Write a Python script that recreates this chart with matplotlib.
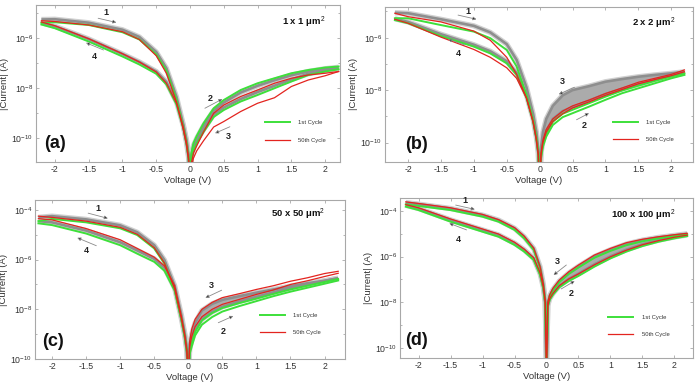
import numpy as np
import matplotlib
matplotlib.use("Agg")
import matplotlib.pyplot as plt
from matplotlib.ticker import FixedLocator, FixedFormatter

plt.rcParams['font.family'] = ['Liberation Sans', 'DejaVu Sans']
plt.rcParams['mathtext.fontset'] = 'custom'
plt.rcParams['mathtext.rm'] = 'Liberation Sans'
plt.rcParams['mathtext.bf'] = 'Liberation Sans:bold'
plt.rcParams['axes.unicode_minus'] = False

# ---------------- data (log10 of |current| in A) ----------------
V_NEG = [-2.2, -2.0, -1.5, -1.0, -0.75, -0.5, -0.35, -0.2, -0.1, -0.05, -0.02, 0.0]
V_POS = [0.0, 0.02, 0.05, 0.1, 0.2, 0.35, 0.5, 0.75, 1.0, 1.25, 1.5, 1.75, 2.0, 2.2]

# panel (a) 1 x 1 um^2
a_b1_green = [-5.38, -5.36, -5.47, -5.76, -6.05, -6.65, -7.3, -8.45, -9.55, -10.2, -10.8, -12]
a_b1_gray = [-5.25, -5.24, -5.38, -5.66, -5.95, -6.55, -7.2, -8.35, -9.45, -10.1, -10.7, -12]
a_b1_red = [-5.3, -5.33, -5.47, -5.74, -6.05, -6.7, -7.4, -8.55, -9.65, -10.3, -10.9, -12]
a_b4_green = [-5.45, -5.6, -6.13, -6.73, -7.05, -7.42, -7.85, -8.65, -9.6, -10.25, -10.8, -12]
a_b4_gray = [-5.38, -5.52, -6.03, -6.63, -6.95, -7.33, -7.75, -8.55, -9.5, -10.2, -10.8, -12]
a_b4_red = [-5.35, -5.5, -6.02, -6.62, -6.95, -7.35, -7.8, -8.6, -9.55, -10.2, -10.8, -12]
a_b2_green = [-12, -10.6, -10.2, -9.9, -9.4, -8.8, -8.47, -8.07, -7.8, -7.6, -7.4, -7.27, -7.17, -7.13]
a_b2_gray = [-12, -10.7, -10.3, -10.0, -9.5, -8.9, -8.57, -8.17, -7.9, -7.68, -7.48, -7.33, -7.22, -7.16]
a_b2_red = [-12, -11.0, -10.6, -10.3, -9.75, -9.0, -8.67, -8.33, -8.07, -7.8, -7.6, -7.47, -7.4, -7.33]
a_b3_green = [-12, -10.9, -10.5, -10.2, -9.75, -9.15, -8.87, -8.53, -8.27, -8.0, -7.73, -7.47, -7.33, -7.24]
a_b3_gray = [-12, -10.8, -10.4, -10.1, -9.65, -9.05, -8.77, -8.43, -8.15, -7.9, -7.65, -7.42, -7.3, -7.2]
a_b3_red = [-12, -11.2, -10.8, -10.5, -10.1, -9.55, -9.33, -8.93, -8.6, -8.38, -7.93, -7.67, -7.5, -7.33]

# panel (b) 2 x 2 um^2
b_b1_green = [-5.26, -5.26, -5.52, -5.77, -6.02, -6.47, -7.1, -8.18, -9.13, -9.8, -10.4, -12]
b_b1_gray = [-5.05, -5.07, -5.3, -5.55, -5.8, -6.25, -6.85, -7.9, -8.9, -9.6, -10.3, -12]
b_b1_red = [-5.07, -5.2, -5.4, -5.75, -6.1, -6.75, -7.4, -8.3, -9.2, -9.9, -10.5, -12]
b_b4_green = [-5.33, -5.45, -5.94, -6.34, -6.6, -6.98, -7.42, -8.3, -9.2, -9.85, -10.45, -12]
b_b4_gray = [-5.28, -5.4, -5.87, -6.27, -6.52, -6.9, -7.34, -8.2, -9.1, -9.8, -10.4, -12]
b_b4_red = [-5.3, -5.45, -5.98, -6.45, -6.75, -7.15, -7.55, -8.3, -9.2, -9.85, -10.45, -12]
b_b2_green = [-12, -10.6, -10.15, -9.77, -9.33, -9.03, -8.88, -8.63, -8.37, -8.12, -7.93, -7.74, -7.55, -7.42]
b_b2_gray = [-12, -10.4, -9.95, -9.55, -9.1, -8.8, -8.65, -8.4, -8.15, -7.95, -7.78, -7.6, -7.45, -7.35]
b_b2_red = [-12, -10.5, -10.0, -9.6, -9.2, -8.9, -8.68, -8.45, -8.2, -7.98, -7.76, -7.6, -7.45, -7.3]
b_b3_green = [-12, -10.5, -10.05, -9.65, -9.2, -8.9, -8.75, -8.5, -8.25, -8.02, -7.83, -7.65, -7.48, -7.36]
b_b3_gray = [-12, -10.2, -9.6, -9.1, -8.6, -8.2, -8.0, -7.85, -7.68, -7.58, -7.49, -7.42, -7.36, -7.3]
b_b3_red = [-12, -10.4, -9.9, -9.5, -9.1, -8.8, -8.6, -8.38, -8.13, -7.92, -7.7, -7.55, -7.4, -7.23]

# panel (c) 50 x 50 um^2
c_b1_green = [-4.45, -4.36, -4.5, -4.74, -5.01, -5.55, -6.16, -7.18, -8.39, -9.1, -9.7, -11]
c_b1_gray = [-4.3, -4.25, -4.38, -4.62, -4.9, -5.42, -6.02, -7.05, -8.25, -9.0, -9.6, -11]
c_b1_red = [-4.25, -4.3, -4.45, -4.7, -4.98, -5.52, -6.14, -7.18, -8.4, -9.1, -9.7, -11]
c_b4_green = [-4.54, -4.61, -4.95, -5.42, -5.76, -6.09, -6.45, -7.25, -8.45, -9.15, -9.75, -11]
c_b4_gray = [-4.45, -4.5, -4.83, -5.3, -5.63, -5.97, -6.33, -7.15, -8.4, -9.1, -9.7, -11]
c_b4_red = [-4.35, -4.4, -4.75, -5.2, -5.55, -5.9, -6.25, -7.05, -8.3, -9.05, -9.7, -11]
c_b2_green = [-11, -9.8, -9.5, -9.05, -8.62, -8.31, -8.09, -7.87, -7.67, -7.47, -7.29, -7.13, -6.97, -6.84]
c_b2_gray = [-11, -9.6, -9.25, -8.85, -8.4, -8.1, -7.9, -7.68, -7.5, -7.32, -7.15, -7.0, -6.86, -6.75]
c_b2_red = [-11, -9.5, -9.1, -8.7, -8.3, -8.0, -7.8, -7.6, -7.4, -7.22, -7.0, -6.85, -6.68, -6.55]
c_b3_green = [-11, -9.7, -9.35, -8.9, -8.45, -8.15, -7.95, -7.75, -7.57, -7.38, -7.2, -7.05, -6.9, -6.78]
c_b3_gray = [-11, -9.4, -9.0, -8.55, -8.05, -7.78, -7.62, -7.47, -7.33, -7.2, -7.07, -6.95, -6.85, -6.75]
c_b3_red = [-11, -9.3, -8.8, -8.4, -8.0, -7.72, -7.53, -7.37, -7.2, -7.05, -6.87, -6.73, -6.56, -6.47]

# panel (d) 100 x 100 um^2
d_b1_green = [-3.71, -3.78, -3.96, -4.25, -4.47, -4.83, -5.2, -5.71, -6.51, -7.25, -8.0, -11]
d_b1_gray = [-3.63, -3.7, -3.89, -4.18, -4.4, -4.76, -5.13, -5.65, -6.45, -7.2, -7.95, -11]
d_b1_red = [-3.6, -3.67, -3.86, -4.15, -4.38, -4.73, -5.1, -5.63, -6.45, -7.2, -7.95, -11]
d_b4_green = [-3.81, -3.96, -4.47, -4.91, -5.13, -5.49, -5.78, -6.15, -6.81, -7.4, -8.05, -11]
d_b4_gray = [-3.75, -3.89, -4.39, -4.83, -5.05, -5.41, -5.7, -6.08, -6.75, -7.35, -8.0, -11]
d_b4_red = [-3.72, -3.86, -4.35, -4.79, -5.01, -5.37, -5.67, -6.05, -6.72, -7.33, -8.0, -11]
d_b2_green = [-11, -8.2, -7.9, -7.68, -7.35, -7.07, -6.85, -6.44, -6.08, -5.78, -5.54, -5.35, -5.2, -5.1]
d_b2_gray = [-11, -8.15, -7.85, -7.62, -7.28, -6.98, -6.75, -6.34, -5.99, -5.7, -5.46, -5.28, -5.14, -5.05]
d_b2_red = [-11, -8.15, -7.85, -7.62, -7.28, -6.98, -6.76, -6.36, -6.01, -5.72, -5.48, -5.3, -5.15, -5.06]
d_b3_green = [-11, -8.1, -7.75, -7.48, -7.12, -6.76, -6.48, -6.05, -5.75, -5.5, -5.33, -5.2, -5.1, -5.03]
d_b3_gray = [-11, -8.05, -7.72, -7.45, -7.08, -6.72, -6.43, -6.0, -5.7, -5.45, -5.28, -5.16, -5.07, -5.0]
d_b3_red = [-11, -8.0, -7.68, -7.39, -7.03, -6.66, -6.37, -5.93, -5.64, -5.39, -5.24, -5.13, -5.04, -4.98]

PANEL_LABELS = ['(a)', '(b)', '(c)', '(d)']
AREA_LABELS = ['1 x 1 \u03bcm$^2$', '2 x 2 \u03bcm$^2$', '50 x 50 \u03bcm$^2$', '100 x 100 \u03bcm$^2$']
SERIES_NAMES = ['1st Cycle', '50th Cycle']
X_TICKS = [-2, -1.5, -1, -0.5, 0, 0.5, 1, 1.5, 2]
X_TICK_LABELS = ['-2', '-1.5', '-1', '-0.5', '0', '0.5', '1', '1.5', '2']

# ---------------- layout / style ----------------
W, H = 700, 387
fig = plt.figure(figsize=(7.0, 3.87), dpi=100)

def fbox(l, r, t, b):
    return [l / W, 1 - b / H, (r - l) / W, (b - t) / H]

panels = [
    dict(pos=fbox(36, 340, 5, 162), xlim=(-2.28, 2.22), ylim=(-10.95, -4.67), fill_pos=False,
         yticks=[-10, -8, -6], data=(a_b1_green, a_b1_gray, a_b1_red, a_b4_green, a_b4_gray, a_b4_red,
                                      a_b2_green, a_b2_gray, a_b2_red, a_b3_green, a_b3_gray, a_b3_red),
         arrows=[((-1.36, -5.2), (-1.09, -5.37), '1', (-1.24, -4.98)),
                 ((-1.28, -6.47), (-1.54, -6.18), '4', (-1.42, -6.71)),
                 ((0.22, -8.8), (0.48, -8.43), '2', (0.30, -8.40)),
                 ((0.59, -9.54), (0.37, -9.8), '3', (0.56, -9.93))],
         title_xy=(0.879, 0.887), plab_xy=(0.063, 0.12), leg=(0.753, 0.195)),
    dict(pos=fbox(385, 693, 6.7, 162), xlim=(-2.35, 2.33), ylim=(-10.74, -4.82), fill_pos=True,
         yticks=[-10, -8, -6], data=(b_b1_green, b_b1_gray, b_b1_red, b_b4_green, b_b4_gray, b_b4_red,
                                      b_b2_green, b_b2_gray, b_b2_red, b_b3_green, b_b3_gray, b_b3_red),
         arrows=[((-1.24, -5.14), (-0.96, -5.3), '1', (-1.09, -5.0)),
                 ((-1.14, -6.28), (-1.39, -6.06), '4', (-1.24, -6.6)),
                 ((0.53, -7.89), (0.29, -8.16), '3', (0.35, -7.68)),
                 ((0.56, -9.13), (0.75, -8.88), '2', (0.68, -9.36))],
         title_xy=(0.871, 0.893), plab_xy=(0.103, 0.11), leg=(0.741, 0.20)),
    dict(pos=fbox(35, 345, 200, 359), xlim=(-2.25, 2.30), ylim=(-10.0, -3.6), fill_pos=True,
         yticks=[-10, -8, -6, -4], data=(c_b1_green, c_b1_gray, c_b1_red, c_b4_green, c_b4_gray, c_b4_red,
                                          c_b2_green, c_b2_gray, c_b2_red, c_b3_green, c_b3_gray, c_b3_red),
         arrows=[((-1.47, -4.13), (-1.18, -4.34), '1', (-1.32, -3.96)),
                 ((-1.35, -5.44), (-1.63, -5.12), '4', (-1.5, -5.62)),
                 ((0.49, -7.23), (0.25, -7.54), '3', (0.34, -7.06)),
                 ((0.44, -8.54), (0.66, -8.27), '2', (0.52, -8.89))],
         title_xy=(0.849, 0.91), plab_xy=(0.059, 0.109), leg=(0.726, 0.22)),
    dict(pos=fbox(400, 693, 198, 358), xlim=(-2.29, 2.29), ylim=(-10.45, -3.43), fill_pos=True,
         yticks=[-10, -8, -6, -4], data=(d_b1_green, d_b1_gray, d_b1_red, d_b4_green, d_b4_gray, d_b4_red,
                                          d_b2_green, d_b2_gray, d_b2_red, d_b3_green, d_b3_gray, d_b3_red),
         arrows=[((-1.42, -3.74), (-1.12, -3.93), '1', (-1.28, -3.56)),
                 ((-1.25, -4.83), (-1.52, -4.54), '4', (-1.38, -5.27)),
                 ((0.31, -6.37), (0.11, -6.81), '3', (0.17, -6.22)),
                 ((0.23, -7.42), (0.44, -7.07), '2', (0.38, -7.64))],
         title_xy=(0.83, 0.889), plab_xy=(0.057, 0.11), leg=(0.711, 0.20)),
]

GREEN = '#3de03a'
RED = '#e3241f'
GRAY = '#8e8e8e'
GRAY_FILL = '#ababab'
GRAY_LIGHT = '#d0d0d0'
SPINE = '#a8a8a8'
TXT = '#333333'

vneg = np.array(V_NEG)
vpos = np.array(V_POS)

for i, p in enumerate(panels):
    ax = fig.add_axes(p['pos'])
    ax.set_yscale('log')
    (g1, s1, r1, g4, s4, r4, g2, s2, r2, g3, s3, r3) = [10.0 ** np.array(a) for a in p['data']]

    # gray cycles (2nd - 49th)
    for v, s in ((vneg, s1), (vneg, s4), (vpos, s2), (vpos, s3)):
        ax.plot(v, s, color=GRAY_LIGHT, lw=3.8, solid_capstyle='butt', zorder=1)
        ax.plot(v, s, color=GRAY, lw=1.9, solid_capstyle='butt', zorder=2)
    if p['fill_pos']:
        ax.fill_between(vpos, s2, s3, color=GRAY_FILL, lw=0, zorder=1.5)
    # first cycle
    lg = None
    for v, g in ((vneg, g1), (vneg, g4), (vpos, g2), (vpos, g3)):
        lg, = ax.plot(v, g, color=GREEN, lw=1.4, zorder=3)
    # 50th cycle
    lr = None
    for v, r in ((vneg, r1), (vneg, r4), (vpos, r2), (vpos, r3)):
        lr, = ax.plot(v, r, color=RED, lw=0.9, zorder=4)

    ax.set_xlim(*p['xlim'])
    ax.set_ylim(10.0 ** p['ylim'][0], 10.0 ** p['ylim'][1])

    ax.xaxis.set_major_locator(FixedLocator(X_TICKS))
    ax.xaxis.set_major_formatter(FixedFormatter(X_TICK_LABELS))
    ax.xaxis.set_minor_locator(FixedLocator([]))
    yt = [10.0 ** k for k in p['yticks']]
    ax.yaxis.set_major_locator(FixedLocator(yt))
    ax.yaxis.set_major_formatter(FixedFormatter(['$10^{%d}$' % k for k in p['yticks']]))
    ax.yaxis.set_minor_locator(FixedLocator([10.0 ** k for k in range(-11, -2)]))
    ax.yaxis.set_minor_formatter(FixedFormatter([]))

    ax.tick_params(which='both', direction='in', top=True, right=True, colors=SPINE,
                   labelcolor=TXT, labelsize=6.3, width=0.6, pad=2)
    ax.tick_params(which='major', length=2.5)
    ax.tick_params(which='minor', length=1.5)
    for sp in ax.spines.values():
        sp.set_color(SPINE)
        sp.set_linewidth(0.8)

    ax.set_xlabel('Voltage (V)', fontsize=6.8, color=TXT, labelpad=1.5)
    ax.set_ylabel('|Current| (A)', fontsize=6.8, color=TXT, labelpad=1.5)

    # sweep direction arrows
    for (st, en, lab, lxy) in p['arrows']:
        ax.annotate('', xy=(en[0], 10.0 ** en[1]), xytext=(st[0], 10.0 ** st[1]),
                    arrowprops=dict(arrowstyle='-|>', lw=0.6, ec='#8a8a8a', fc='black',
                                    mutation_scale=5, shrinkA=0, shrinkB=0), zorder=6)
        ax.text(lxy[0], 10.0 ** lxy[1], lab, fontsize=6.5, fontweight='bold',
                ha='center', va='center', color='#222222', zorder=6)

    ax.text(p['title_xy'][0], p['title_xy'][1], AREA_LABELS[i], transform=ax.transAxes,
            fontsize=6.8, fontweight='bold', ha='center', va='center', color='#111111')
    ax.text(p['plab_xy'][0], p['plab_xy'][1], PANEL_LABELS[i], transform=ax.transAxes,
            fontsize=13, fontweight='bold', ha='center', va='center', color='#111111')

    leg = ax.legend([lg, lr], SERIES_NAMES, loc='center left', bbox_to_anchor=p['leg'],
                    frameon=False, fontsize=4.2, handlelength=4.3, handletextpad=1.4,
                    labelspacing=2.1, borderpad=0, borderaxespad=0)
    for t in leg.get_texts():
        t.set_color(TXT)

fig.savefig('out.png', dpi=100)
